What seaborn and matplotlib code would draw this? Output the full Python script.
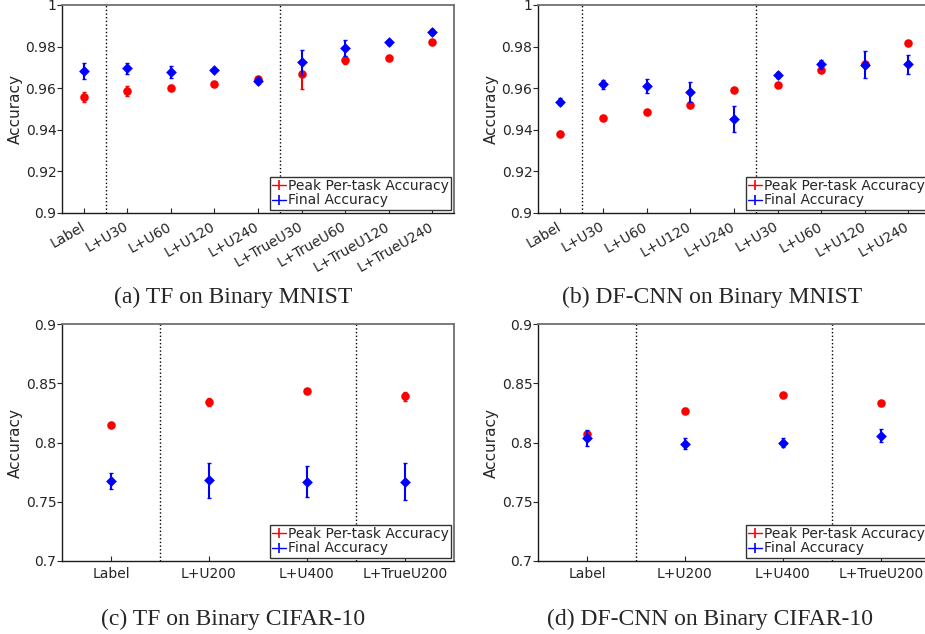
"""
Peak per-task vs final accuracy, TF and DF-CNN on Binary MNIST / CIFAR-10
"""

import numpy as np
import pandas as pd
import matplotlib
matplotlib.use('Agg')
import matplotlib.pyplot as plt
import seaborn as sns
from matplotlib.lines import Line2D
from matplotlib.ticker import FuncFormatter

sns.set_style('white')
plt.rcParams['font.family'] = ['DejaVu Sans']

# Data
mnist_tf_labels = ['Label', 'L+U30', 'L+U60', 'L+U120', 'L+U240',
                   'L+TrueU30', 'L+TrueU60', 'L+TrueU120', 'L+TrueU240']
mnist_df_labels = ['Label', 'L+U30', 'L+U60', 'L+U120', 'L+U240',
                   'L+U30', 'L+U60', 'L+U120', 'L+U240']
cifar_labels = ['Label', 'L+U200', 'L+U400', 'L+TrueU200']

tf_mnist_peak = [0.9558, 0.9587, 0.9603, 0.9618, 0.9646, 0.9667, 0.9736, 0.9746, 0.9824]
tf_mnist_peak_err = [0.0025, 0.0025, 0.0010, 0.0008, 0.0007, 0.0070, 0.0020, 0.0009, 0.0006]
tf_mnist_final = [0.9682, 0.9696, 0.9678, 0.9686, 0.9637, 0.9725, 0.9792, 0.9822, 0.9870]
tf_mnist_final_err = [0.0037, 0.0027, 0.0031, 0.0010, 0.0017, 0.0060, 0.0038, 0.0012, 0.0013]

df_mnist_peak = [0.9382, 0.9458, 0.9487, 0.9518, 0.9591, 0.9613, 0.9688, 0.9718, 0.9816]
df_mnist_peak_err = [0.0010, 0.0010, 0.0006, 0.0010, 0.0005, 0.0005, 0.0008, 0.0010, 0.0005]
df_mnist_final = [0.9536, 0.9619, 0.9610, 0.9582, 0.9452, 0.9664, 0.9715, 0.9712, 0.9714]
df_mnist_final_err = [0.0017, 0.0022, 0.0032, 0.0046, 0.0061, 0.0016, 0.0022, 0.0065, 0.0048]

tf_cifar_peak = [0.8149, 0.8344, 0.8431, 0.8392]
tf_cifar_peak_err = [0.0010, 0.0032, 0.0012, 0.0038]
tf_cifar_final = [0.7676, 0.7682, 0.7670, 0.7670]
tf_cifar_final_err = [0.0068, 0.0148, 0.0130, 0.0155]

df_cifar_peak = [0.8073, 0.8270, 0.8397, 0.8335]
df_cifar_peak_err = [0.0012, 0.0017, 0.0010, 0.0007]
df_cifar_final = [0.8039, 0.7989, 0.8000, 0.8059]
df_cifar_final_err = [0.0065, 0.0047, 0.0035, 0.0054]

RED = '#ff0000'
BLUE = '#0000ff'
TXT = '#262626'


def draw_panel(ax, labels, peak, peak_err, final, final_err, ylim, yticks, seps, rot):
    pos = np.arange(1, len(labels) + 1)
    df = pd.DataFrame({'pos': np.concatenate([pos, pos]),
                       'acc': peak + final,
                       'kind': ['Peak'] * len(pos) + ['Final'] * len(pos)})

    # error bars first, then markers on top
    ax.errorbar(pos, peak, yerr=peak_err, fmt='none', ecolor=RED,
                elinewidth=1.5, capsize=1.5, capthick=1.0, zorder=2)
    sns.scatterplot(data=df[df['kind'] == 'Peak'], x='pos', y='acc', ax=ax,
                    color=RED, marker='o', s=38, linewidth=0, zorder=3, legend=False)
    ax.errorbar(pos, final, yerr=final_err, fmt='none', ecolor=BLUE,
                elinewidth=1.5, capsize=1.5, capthick=1.0, zorder=4)
    sns.scatterplot(data=df[df['kind'] == 'Final'], x='pos', y='acc', ax=ax,
                    color=BLUE, marker='D', s=30, linewidth=0, zorder=5, legend=False)

    for s in seps:
        ax.axvline(s, color='black', ls=':', lw=1.0, zorder=1)

    ax.set_xlim(0.5, len(labels) + 0.5)
    ax.set_ylim(*ylim)
    ax.set_yticks(yticks)
    ax.yaxis.set_major_formatter(FuncFormatter(lambda v, p: f'{v:g}'))
    ax.set_xticks(pos)
    if rot:
        ax.set_xticklabels(labels, rotation=rot, ha='right', va='center',
                           rotation_mode='anchor')
        ax.tick_params(axis='x', pad=9)
    else:
        ax.set_xticklabels(labels)
        ax.tick_params(axis='x', pad=4)
    ax.set_xlabel('')
    ax.set_ylabel('Accuracy', fontsize=11, color=TXT, labelpad=2)
    ax.tick_params(axis='x', direction='in', length=3.5, width=0.8, labelsize=10,
                   labelcolor=TXT, bottom=True, top=False)
    ax.tick_params(axis='y', direction='out', length=3.5, width=0.8, labelsize=10,
                   labelcolor=TXT, left=True, right=False, pad=0.5)

    for side in ['left', 'bottom']:
        ax.spines[side].set_color('#1a1a1a')
        ax.spines[side].set_linewidth(1.0)
    for side in ['top', 'right']:
        ax.spines[side].set_color('#707070')
        ax.spines[side].set_linewidth(1.3)

    handles = [Line2D([0], [0], color=RED, lw=1.0, marker='|', markersize=7, mew=1.2),
               Line2D([0], [0], color=BLUE, lw=1.0, marker='|', markersize=7, mew=1.2)]
    leg = ax.legend(handles, ['Peak Per-task Accuracy', 'Final Accuracy'],
                    loc='lower right', fontsize=10, frameon=True, fancybox=False,
                    framealpha=1, edgecolor='#333333', borderaxespad=0.25,
                    handlelength=1.0, handletextpad=0.1, borderpad=0.15,
                    labelspacing=0.05)
    leg.get_frame().set_linewidth(1.0)
    for t in leg.get_texts():
        t.set_color(TXT)


fig = plt.figure(figsize=(9.25, 6.34), dpi=100)

ax_a = fig.add_axes([62 / 925, 1 - 213 / 634, 392 / 925, 208 / 634])
ax_b = fig.add_axes([538 / 925, 1 - 213 / 634, 392 / 925, 208 / 634])
ax_c = fig.add_axes([62 / 925, 1 - 561 / 634, 392 / 925, 237 / 634])
ax_d = fig.add_axes([538 / 925, 1 - 561 / 634, 392 / 925, 237 / 634])

mnist_ticks = np.arange(0.9, 1.0001, 0.02)
cifar_ticks = np.arange(0.7, 0.9001, 0.05)

draw_panel(ax_a, mnist_tf_labels, tf_mnist_peak, tf_mnist_peak_err,
           tf_mnist_final, tf_mnist_final_err, (0.9, 1.0), mnist_ticks, [1.5, 5.5], 30)
draw_panel(ax_b, mnist_df_labels, df_mnist_peak, df_mnist_peak_err,
           df_mnist_final, df_mnist_final_err, (0.9, 1.0), mnist_ticks, [1.5, 5.5], 30)
draw_panel(ax_c, cifar_labels, tf_cifar_peak, tf_cifar_peak_err,
           tf_cifar_final, tf_cifar_final_err, (0.7, 0.9), cifar_ticks, [1.5, 3.5], 0)
draw_panel(ax_d, cifar_labels, df_cifar_peak, df_cifar_peak_err,
           df_cifar_final, df_cifar_final_err, (0.7, 0.9), cifar_ticks, [1.5, 3.5], 0)

cap_kw = dict(ha='center', va='center', fontsize=17, family=['Liberation Serif', 'DejaVu Serif'])
fig.text(233 / 925, 1 - 297 / 634, '(a) TF on Binary MNIST', **cap_kw)
fig.text(712 / 925, 1 - 297 / 634, '(b) DF-CNN on Binary MNIST', **cap_kw)
fig.text(233 / 925, 1 - 619 / 634, '(c) TF on Binary CIFAR-10', **cap_kw)
fig.text(710 / 925, 1 - 619 / 634, '(d) DF-CNN on Binary CIFAR-10', **cap_kw)

fig.savefig('out.png', dpi=100)
plt.close(fig)
